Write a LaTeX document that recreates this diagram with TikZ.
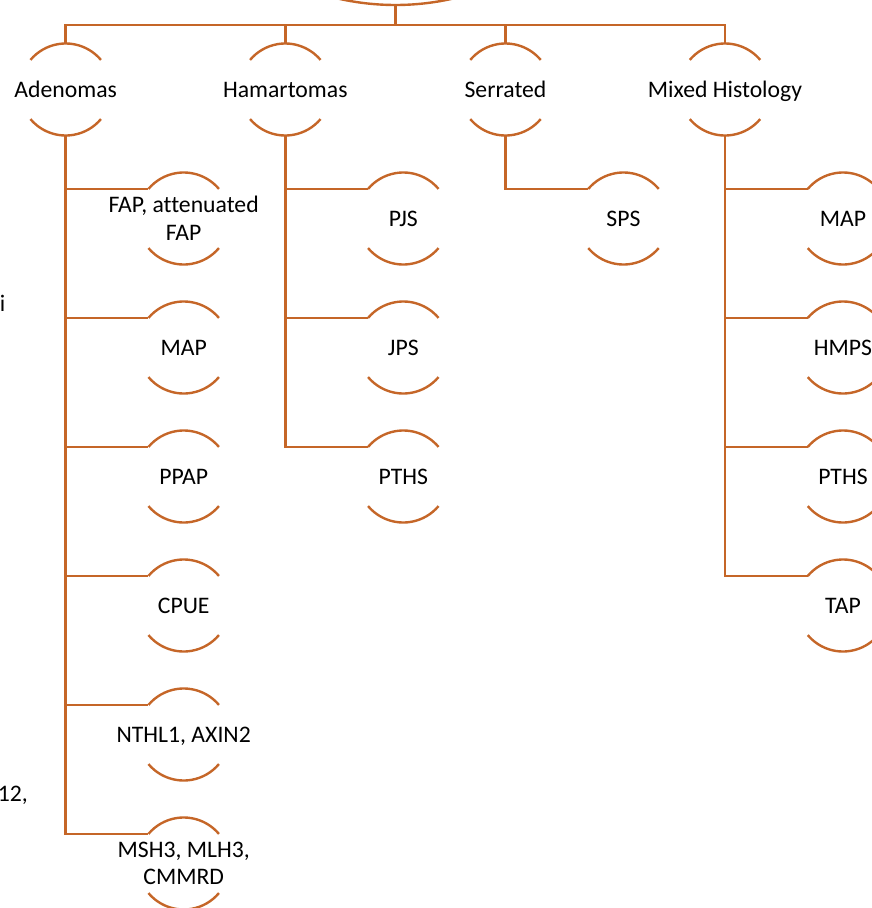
\documentclass[tikz,border=0pt]{standalone}
\usepackage{fontspec}
\setmainfont[Ligatures=NoCommon]{Carlito}
\usepackage{tikz}
\usetikzlibrary{positioning,calc}
\definecolor{rust}{RGB}{197,102,40}
\newcommand{\lblfont}{\fontsize{23.7pt}{27.5pt}\selectfont}

\begin{document}
\begin{tikzpicture}[
      x=1pt,y=1pt,
      hub/.style={circle,minimum size=92pt,inner sep=0pt,outer sep=0pt},
      lbl/.style={inner sep=0pt,align=center,font=\lblfont,text=black},
      one/.style={lbl,text height=15.3pt,text depth=0pt},
      arcline/.style={draw=rust,line width=2.4pt},
      link/.style={draw=rust,line width=2.8pt}
    ]
    \useasboundingbox (0,0) rectangle (872,-908);
    \clip (0,0) rectangle (872,-908);
    % root, mostly above the visible area
    \node[circle,minimum size=520pt,inner sep=0pt,outer sep=0pt] (root) at (395.5,255) {};
    \draw[arcline] (root.250) arc[start angle=250,end angle=290,radius=260pt];
    % row 1: the four polyp types
    \node[hub,label={[one]center:Adenomas}] (ade) at (65.7,-89.5) {};
    \node[hub,label={[one]center:Hamartomas}] (ham) at (285.3,-89.5) {};
    \node[hub,label={[one]center:Serrated}] (ser) at (505.5,-89.5) {};
    \node[hub,label={[one]center:Mixed Histology}] (mix) at (725,-89.5) {};
    % adenomas
    \node[hub,label={[lbl]center:FAP, attenuated\\FAP}] (fap) at (183.7,-218.5) {};
    \node[hub,label={[one]center:MAP}] (amap) at (183.7,-347.5) {};
    \node[hub,label={[one]center:PPAP}] (ppap) at (183.7,-476.5) {};
    \node[hub,label={[one]center:CPUE}] (cpue) at (183.7,-605.5) {};
    \node[hub,label={[one]center:NTHL1, AXIN2}] (nthl) at (183.7,-734.5) {};
    \node[hub,label={[lbl]center:MSH3, MLH3,\\CMMRD}] (msh) at (183.7,-863.5) {};
    % hamartomas
    \node[hub,label={[one]center:PJS}] (pjs) at (403.3,-218.5) {};
    \node[hub,label={[one]center:JPS}] (jps) at (403.3,-347.5) {};
    \node[hub,label={[one]center:PTHS}] (hpths) at (403.3,-476.5) {};
    % serrated
    \node[hub,label={[one]center:SPS}] (sps) at (623.5,-218.5) {};
    % mixed histology
    \node[hub,label={[one]center:MAP}] (mmap) at (843,-218.5) {};
    \node[hub,label={[one]center:HMPS}] (hmps) at (843,-347.5) {};
    \node[hub,label={[one]center:PTHS}] (mpths) at (843,-476.5) {};
    \node[hub,label={[one]center:TAP}] (tap) at (843,-605.5) {};
    % cut-off text at the left edge
    \node[lbl,anchor=base east] (fragi) at (5.5,-311) {i};
    \node[lbl,anchor=base east] (fragnum) at (28,-801) {12,};
    % arcs round every node
    \foreach \n in {ade,ham,ser,mix,fap,amap,ppap,cpue,nthl,msh,pjs,jps,hpths,
        sps,mmap,hmps,mpths,tap} {
      \draw[arcline] (\n.40) arc[start angle=40,end angle=140,radius=46pt];
      \draw[arcline] (\n.220) arc[start angle=220,end angle=320,radius=46pt];
    }
    % links
    \draw[link] (root.south) -- ++(0,-20) -| (ade.north);
    \draw[link] (root.south) -- ++(0,-20) -| (ham.north);
    \draw[link] (root.south) -- ++(0,-20) -| (ser.north);
    \draw[link] (root.south) -- ++(0,-20) -| (mix.north);
    \draw[link] (ade.south) |- (fap.140);
    \draw[link] (ade.south) |- (amap.140);
    \draw[link] (ade.south) |- (ppap.140);
    \draw[link] (ade.south) |- (cpue.140);
    \draw[link] (ade.south) |- (nthl.140);
    \draw[link] (ade.south) |- (msh.140);
    \draw[link] (ham.south) |- (pjs.140);
    \draw[link] (ham.south) |- (jps.140);
    \draw[link] (ham.south) |- (hpths.140);
    \draw[link] (ser.south) |- (sps.140);
    \draw[link] (mix.south) |- (mmap.140);
    \draw[link] (mix.south) |- (hmps.140);
    \draw[link] (mix.south) |- (mpths.140);
    \draw[link] (mix.south) |- (tap.140);
  \end{tikzpicture}
\end{document}
